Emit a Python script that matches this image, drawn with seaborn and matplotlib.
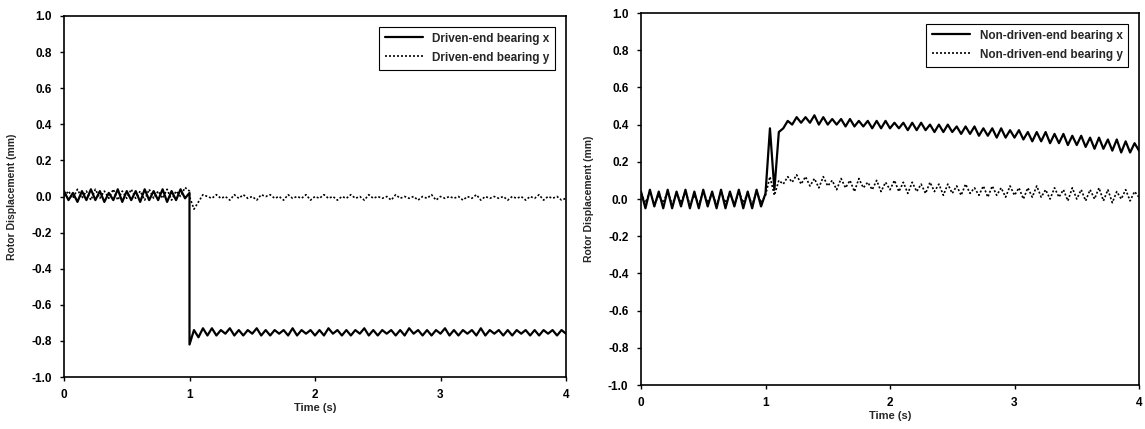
import numpy as np
import pandas as pd
import matplotlib
matplotlib.use("Agg")
import matplotlib.pyplot as plt
import seaborn as sns

# Sample rate of the read-off values (samples per second), 0..4 s
RATE = 28
# the driven-end step happens exactly at t = 1.0 s (one extra sample there)
STEP_T = 1.0

de_x = [0.03, -0.02, 0.02, -0.03, 0.03, -0.02, 0.04, -0.02, 0.03, -0.03, 0.02, -0.02, 0.04, -0.03,
        0.03, -0.02, 0.03, -0.03, 0.04, -0.02, 0.03, -0.02, 0.04, -0.03, 0.03, -0.02, 0.04, -0.01,
        0.02,
        -0.82, -0.74, -0.78, -0.73,
        -0.77, -0.73, -0.77, -0.74, -0.76, -0.73, -0.77, -0.74,
        -0.77, -0.74, -0.76, -0.73, -0.77, -0.74, -0.77, -0.74,
        -0.76, -0.74, -0.77, -0.73, -0.77, -0.74, -0.76, -0.74,
        -0.77, -0.74, -0.77, -0.73, -0.76, -0.74, -0.77, -0.74,
        -0.77, -0.74, -0.76, -0.73, -0.77, -0.74, -0.77, -0.74,
        -0.76, -0.74, -0.77, -0.74, -0.77, -0.73, -0.76, -0.74,
        -0.77, -0.74, -0.77, -0.74, -0.76, -0.73, -0.77, -0.74,
        -0.77, -0.74, -0.76, -0.74, -0.77, -0.73, -0.77, -0.74,
        -0.76, -0.74, -0.77, -0.74, -0.77, -0.74, -0.76, -0.74,
        -0.77, -0.74, -0.77, -0.74, -0.76, -0.74, -0.77, -0.74,
        -0.76]

de_y = [0.00, 0.03, -0.01, 0.04, -0.01, 0.03, -0.02, 0.04, -0.01, 0.03, -0.01, 0.04, -0.02, 0.03,
        -0.01, 0.04, -0.01, 0.03, -0.02, 0.04, -0.01, 0.03, -0.01, 0.04, -0.02, 0.03, 0.00, 0.05,
        0.03,
        0.00, -0.07, -0.03, 0.01,
        0.00, -0.01, 0.01, -0.01, 0.00, -0.02, 0.01, -0.01,
        0.01, -0.01, 0.00, -0.02, 0.01, 0.00, 0.01, -0.01,
        0.00, -0.02, 0.01, -0.01, 0.00, -0.01, 0.01, -0.02,
        0.00, -0.01, 0.01, -0.01, 0.00, -0.02, 0.00, -0.01,
        0.01, -0.01, 0.00, -0.02, 0.01, -0.01, 0.00, -0.01,
        0.00, -0.02, 0.01, -0.01, 0.00, -0.01, 0.00, -0.02,
        0.00, -0.01, 0.01, -0.02, 0.00, -0.01, 0.00, -0.01,
        0.00, -0.02, 0.00, -0.01, 0.01, -0.02, 0.00, -0.01,
        0.00, -0.01, 0.00, -0.02, 0.00, -0.01, 0.00, -0.02,
        0.00, -0.01, 0.01, -0.02, 0.00, -0.01, 0.00, -0.02,
        -0.01]

nde_x = [0.04, -0.05, 0.05, -0.04, 0.04, -0.05, 0.05, -0.05, 0.04, -0.04, 0.05, -0.05, 0.04, -0.05,
         0.05, -0.04, 0.04, -0.05, 0.05, -0.05, 0.04, -0.04, 0.05, -0.05, 0.04, -0.05, 0.05, -0.04, 0.03,
         0.38, 0.05, 0.36, 0.38, 0.42, 0.40, 0.44, 0.41,
         0.44, 0.41, 0.45, 0.40, 0.44, 0.40, 0.43, 0.40, 0.43, 0.39, 0.43, 0.39, 0.42, 0.39, 0.42, 0.38,
         0.42, 0.38, 0.42, 0.38, 0.41, 0.38, 0.41, 0.37, 0.41, 0.37, 0.41, 0.37, 0.40, 0.36, 0.40, 0.36,
         0.40, 0.36, 0.39, 0.35, 0.39, 0.35, 0.39, 0.34, 0.38, 0.34, 0.38, 0.33, 0.38, 0.33, 0.37, 0.33,
         0.37, 0.32, 0.36, 0.31, 0.36, 0.31, 0.36, 0.30, 0.35, 0.30, 0.35, 0.29, 0.34, 0.29, 0.34, 0.28,
         0.33, 0.27, 0.33, 0.27, 0.32, 0.26, 0.32, 0.25, 0.31, 0.25, 0.30, 0.26]

nde_y = [0.03, -0.02, 0.04, -0.03, 0.02, -0.02, 0.04, -0.03, 0.03, -0.02, 0.04, -0.03, 0.02, -0.03,
         0.04, -0.02, 0.03, -0.03, 0.04, -0.02, 0.03, -0.03, 0.04, -0.02, 0.03, -0.03, 0.04, -0.02, 0.02,
         0.12, 0.02, 0.10, 0.08, 0.12, 0.09, 0.13, 0.08,
         0.12, 0.07, 0.11, 0.06, 0.12, 0.07, 0.10, 0.05,
         0.11, 0.06, 0.10, 0.04, 0.11, 0.06, 0.09, 0.05,
         0.10, 0.04, 0.09, 0.05, 0.10, 0.04, 0.09, 0.03,
         0.09, 0.04, 0.08, 0.03, 0.09, 0.04, 0.08, 0.02,
         0.08, 0.03, 0.07, 0.02, 0.08, 0.03, 0.06, 0.02,
         0.07, 0.01, 0.07, 0.02, 0.06, 0.01, 0.07, 0.02,
         0.06, 0.00, 0.06, 0.01, 0.07, 0.01, 0.05, 0.00,
         0.06, 0.01, 0.05, -0.01, 0.06, 0.00, 0.05, -0.01,
         0.05, 0.00, 0.06, -0.01, 0.05, -0.02, 0.04, 0.00,
         0.05, -0.01, 0.04, 0.01]

labels_left = ["Driven-end bearing x", "Driven-end bearing y"]
labels_right = ["Non-driven-end bearing x", "Non-driven-end bearing y"]
xticks = [0, 1, 2, 3, 4]
yticks = [-1.0, -0.8, -0.6, -0.4, -0.2, 0.0, 0.2, 0.4, 0.6, 0.8, 1.0]

t_right = np.arange(len(nde_x)) / RATE
t_left = np.insert(np.arange(len(de_x) - 1) / RATE, int(STEP_T * RATE), STEP_T)

sns.set_style("ticks")
plt.rcParams['font.family'] = ['Liberation Sans', 'DejaVu Sans']
plt.rcParams['font.weight'] = 'bold'

fig = plt.figure(figsize=(11.45, 4.29), dpi=100)
ax1 = fig.add_axes([64/1145, 1-377/429, (566-64)/1145, (377-16)/429])
ax2 = fig.add_axes([641/1145, 1-385/429, (1139-641)/1145, (385-13)/429])

def draw(ax, t, xs, ys, labels):
    df = pd.DataFrame({"t": t, "x": xs, "y": ys})
    sns.lineplot(data=df, x="t", y="x", ax=ax, color="black", lw=1.6,
                 linestyle="-", label=labels[0], estimator=None, sort=False)
    sns.lineplot(data=df, x="t", y="y", ax=ax, color="black", lw=1.2,
                 linestyle=(0, (1.2, 1.2)), label=labels[1], estimator=None, sort=False)
    ax.set_xlim(0, 4)
    ax.set_ylim(-1.0, 1.0)
    ax.set_xticks(xticks)
    ax.set_yticks(yticks)
    ax.set_xticklabels([str(v) for v in xticks], fontsize=8.5, fontweight="bold")
    ax.set_yticklabels([f"{v:.1f}" for v in yticks], fontsize=8.5, fontweight="bold")
    ax.tick_params(direction="out", length=3, width=1, colors="black", pad=6)
    ax.set_xlabel("Time (s)", fontsize=8, fontweight="bold", labelpad=1)
    ax.set_ylabel("Rotor Displacement (mm)", fontsize=7.5, fontweight="bold", labelpad=10)
    for s in ax.spines.values():
        s.set_visible(True)
        s.set_color("black")
        s.set_linewidth(1.2)
    leg = ax.legend(loc="upper right", fontsize=8.5, frameon=True, fancybox=False,
                    edgecolor="black", framealpha=1, handlelength=3.2,
                    borderaxespad=0.9, labelspacing=0.6, borderpad=0.5)
    leg.get_frame().set_linewidth(0.8)
    for txt in leg.get_texts():
        txt.set_fontweight("bold")

draw(ax1, t_left, de_x, de_y, labels_left)
draw(ax2, t_right, nde_x, nde_y, labels_right)

fig.savefig("out.png", dpi=100)
